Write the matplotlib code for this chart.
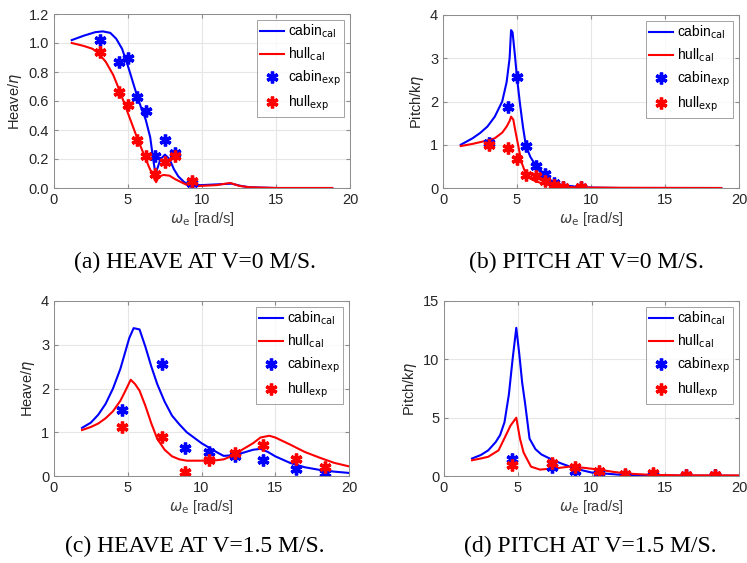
import matplotlib.pyplot as plt

# ---- (a) heave, V = 0 m/s ----
a_cab_x = [1.2, 2.0, 2.8, 3.3, 3.8, 4.2, 4.6, 5.0, 5.3, 5.6, 5.9, 6.2, 6.5, 6.7, 6.85, 7.0, 7.2, 7.5, 7.8, 8.1, 8.4, 8.8, 9.2, 10.0, 11.0, 12.0, 12.6, 13.2, 15.0, 18.8]
a_cab_y = [1.02, 1.05, 1.075, 1.08, 1.07, 1.03, 0.96, 0.84, 0.74, 0.64, 0.55, 0.47, 0.35, 0.2, 0.1, 0.14, 0.2, 0.23, 0.2, 0.13, 0.08, 0.04, 0.02, 0.02, 0.025, 0.03, 0.015, 0.005, 0.0, 0.0]
a_hull_x = [1.2, 2.0, 2.6, 3.0, 3.5, 4.0, 4.4, 4.8, 5.2, 5.6, 6.0, 6.4, 6.7, 6.9, 7.1, 7.4, 7.8, 8.2, 8.6, 9.2, 10.0, 11.0, 11.9, 12.5, 13.2, 15.0, 18.8]
a_hull_y = [1.0, 0.98, 0.96, 0.93, 0.87, 0.78, 0.68, 0.57, 0.46, 0.35, 0.25, 0.15, 0.08, 0.04, 0.08, 0.09, 0.085, 0.06, 0.04, 0.01, 0.015, 0.02, 0.035, 0.015, 0.005, 0.0, 0.0]
a_exp_x = [3.1, 4.4, 5.0, 5.6, 6.2, 6.8, 7.5, 8.2, 9.3]
a_cab_exp = [1.02, 0.87, 0.90, 0.63, 0.53, 0.22, 0.33, 0.24, 0.035]
a_hull_exp = [0.94, 0.66, 0.57, 0.33, 0.22, 0.10, 0.18, 0.22, 0.05]

# ---- (b) pitch, V = 0 m/s ----
b_cab_x = [1.2, 2.0, 2.5, 3.0, 3.5, 4.0, 4.3, 4.5, 4.6, 4.7, 4.85, 5.0, 5.2, 5.4, 5.6, 5.9, 6.3, 6.7, 7.0, 7.5, 8.0, 9.0, 10.0, 12.0, 18.8]
b_cab_y = [1.0, 1.15, 1.27, 1.42, 1.65, 2.0, 2.45, 3.0, 3.65, 3.6, 3.1, 2.55, 1.95, 1.42, 0.98, 0.72, 0.5, 0.32, 0.23, 0.13, 0.07, 0.03, 0.01, 0.0, 0.0]
b_hull_x = [1.2, 2.0, 2.5, 3.0, 3.5, 4.0, 4.3, 4.5, 4.6, 4.75, 4.9, 5.1, 5.3, 5.6, 6.0, 6.3, 7.0, 7.5, 8.0, 9.0, 10.0, 12.0, 18.8]
b_hull_y = [0.97, 1.02, 1.06, 1.1, 1.15, 1.28, 1.42, 1.55, 1.65, 1.58, 1.3, 0.95, 0.6, 0.32, 0.2, 0.15, 0.08, 0.05, 0.03, 0.015, 0.01, 0.005, 0.0]
b_exp_x = [3.1, 4.4, 5.0, 5.6, 6.3, 6.9, 7.5, 8.1, 9.3]
b_cab_exp = [1.03, 1.87, 2.56, 0.97, 0.52, 0.32, 0.11, 0.03, 0.03]
b_hull_exp = [0.99, 0.92, 0.66, 0.29, 0.27, 0.17, 0.06, 0.03, 0.03]

# ---- (c) heave, V = 1.5 m/s ----
c_cab_x = [1.9, 2.5, 3.0, 3.5, 4.0, 4.5, 4.8, 5.1, 5.4, 5.8, 6.2, 6.6, 7.0, 7.5, 8.0, 8.5, 9.0, 10.0, 11.0, 11.5, 12.0, 12.5, 13.0, 13.5, 14.0, 14.5, 15.0, 16.0, 17.0, 18.0, 19.0, 20.0]
c_cab_y = [1.1, 1.22, 1.4, 1.65, 2.0, 2.45, 2.8, 3.15, 3.38, 3.35, 2.95, 2.5, 2.1, 1.7, 1.38, 1.18, 1.0, 0.75, 0.55, 0.46, 0.47, 0.5, 0.55, 0.6, 0.62, 0.55, 0.45, 0.3, 0.2, 0.14, 0.1, 0.07]
c_hull_x = [1.9, 2.5, 3.0, 3.5, 4.0, 4.5, 4.8, 5.2, 5.5, 5.8, 6.2, 6.6, 7.0, 7.5, 8.0, 8.5, 9.0, 10.0, 11.0, 11.5, 12.0, 12.5, 13.0, 13.5, 14.0, 14.6, 15.0, 16.0, 17.0, 18.0, 19.0, 20.0]
c_hull_y = [1.05, 1.12, 1.2, 1.32, 1.48, 1.72, 1.92, 2.2, 2.1, 1.95, 1.6, 1.2, 0.85, 0.6, 0.45, 0.38, 0.35, 0.35, 0.36, 0.38, 0.45, 0.55, 0.65, 0.75, 0.88, 0.92, 0.88, 0.72, 0.55, 0.42, 0.3, 0.22]
c_exp_x = [4.6, 7.3, 8.9, 10.5, 12.3, 14.2, 16.4, 18.4]
c_cab_exp = [1.52, 2.57, 0.63, 0.55, 0.45, 0.36, 0.16, 0.07]
c_hull_exp = [1.13, 0.89, 0.10, 0.37, 0.53, 0.72, 0.40, 0.20]

# ---- (d) pitch, V = 1.5 m/s ----
d_cab_x = [1.9, 2.5, 3.0, 3.5, 3.8, 4.1, 4.4, 4.65, 4.9, 5.1, 5.3, 5.5, 5.8, 6.2, 6.6, 7.0, 7.5, 8.0, 9.0, 10.0, 11.0, 12.0, 14.0, 16.0, 20.0]
d_cab_y = [1.5, 1.8, 2.2, 2.9, 3.5, 4.6, 7.0, 10.0, 12.7, 10.5, 8.0, 6.2, 3.2, 2.3, 1.85, 1.6, 1.3, 1.05, 0.6, 0.3, 0.2, 0.1, 0.05, 0.03, 0.02]
d_hull_x = [1.9, 2.5, 3.0, 3.7, 4.2, 4.5, 4.9, 5.15, 5.4, 5.9, 6.5, 7.5, 8.5, 9.5, 10.5, 11.5, 12.5, 14.0, 16.0, 20.0]
d_hull_y = [1.35, 1.5, 1.65, 2.2, 3.5, 4.3, 5.0, 3.2, 2.0, 0.8, 0.55, 0.65, 0.8, 0.7, 0.55, 0.35, 0.2, 0.1, 0.06, 0.05]
d_exp_x = [4.6, 7.3, 8.9, 10.5, 12.3, 14.2, 16.4, 18.4]
d_cab_exp = [1.5, 0.8, 0.45, 0.25, 0.10, 0.07, 0.05, 0.05]
d_hull_exp = [0.95, 1.1, 0.75, 0.45, 0.18, 0.22, 0.08, 0.07]

W, H = 747, 563
fig = plt.figure(figsize=(W / 100, H / 100), dpi=100)
plt.rcParams["font.family"] = ["Liberation Sans", "DejaVu Sans"]
plt.rcParams["mathtext.fontset"] = "dejavusans"

BLUE = "#0000ff"
RED = "#ff0000"
AST = (6, 2, 0)
FRAME = "#8c8c8c"


def px_axes(left, top, right, bottom):
    return fig.add_axes([left / W, 1 - bottom / H, (right - left) / W, (bottom - top) / H])


panels = [
    dict(box=(54, 14, 350, 188), cab=(a_cab_x, a_cab_y), hull=(a_hull_x, a_hull_y),
         ex=a_exp_x, ce=a_cab_exp, he=a_hull_exp, ylim=(0, 1.2), yticks=[0, 0.2, 0.4, 0.6, 0.8, 1, 1.2],
         ylabel=r"Heave/$\eta$", cap="(a) HEAVE AT V=0 M/S.", capxy=(195, 262)),
    dict(box=(443, 15, 739, 188), cab=(b_cab_x, b_cab_y), hull=(b_hull_x, b_hull_y),
         ex=b_exp_x, ce=b_cab_exp, he=b_hull_exp, ylim=(0, 4), yticks=[0, 1, 2, 3, 4],
         ylabel=r"Pitch/k$\eta$", cap="(b) PITCH AT V=0 M/S.", capxy=(586, 262)),
    dict(box=(54, 301, 349, 476), cab=(c_cab_x, c_cab_y), hull=(c_hull_x, c_hull_y),
         ex=c_exp_x, ce=c_cab_exp, he=c_hull_exp, ylim=(0, 4), yticks=[0, 1, 2, 3, 4],
         ylabel=r"Heave/$\eta$", cap="(c) HEAVE AT V=1.5 M/S.", capxy=(195, 546)),
    dict(box=(444, 301, 739, 476), cab=(d_cab_x, d_cab_y), hull=(d_hull_x, d_hull_y),
         ex=d_exp_x, ce=d_cab_exp, he=d_hull_exp, ylim=(0, 15), yticks=[0, 5, 10, 15],
         ylabel=r"Pitch/k$\eta$", cap="(d) PITCH AT V=1.5 M/S.", capxy=(590, 546)),
]

for p in panels:
    ax = px_axes(*p["box"])
    ax.plot(*p["cab"], color=BLUE, lw=1.5, label=r"cabin$_{\rm cal}$")
    ax.plot(*p["hull"], color=RED, lw=1.5, label=r"hull$_{\rm cal}$")
    ax.plot(p["ex"], p["ce"], ls="none", marker=AST, ms=8.5, mew=2.4, color=BLUE, label=r"cabin$_{\rm exp}$")
    ax.plot(p["ex"], p["he"], ls="none", marker=AST, ms=8.5, mew=2.4, color=RED, label=r"hull$_{\rm exp}$")
    ax.set_xlim(0, 20)
    ax.set_xticks([0, 5, 10, 15, 20])
    ax.set_ylim(*p["ylim"])
    ax.set_yticks(p["yticks"])
    ax.set_xlabel(r"$\omega_{\rm e}$ [rad/s]", fontsize=10.5, color="#404040", labelpad=2)
    ax.set_ylabel(p["ylabel"], fontsize=10.5, color="#262626", labelpad=3)
    ax.grid(True, color="#e6e6e6", lw=0.8)
    ax.set_axisbelow(True)
    ax.tick_params(labelsize=10.5, labelcolor="#262626", color=FRAME, length=3,
                   direction="in", top=True, right=True)
    for s in ax.spines.values():
        s.set_color(FRAME)
        s.set_linewidth(0.7)
    leg = ax.legend(loc="upper right", fontsize=10, frameon=True, fancybox=False,
                    handlelength=1.7, labelspacing=0.4, borderpad=0.25, handletextpad=0.3,
                    borderaxespad=0.4)
    leg.get_frame().set_edgecolor(FRAME)
    leg.get_frame().set_linewidth(0.7)
    fig.text(p["capxy"][0] / W, 1 - p["capxy"][1] / H, p["cap"], ha="center", va="center",
             fontsize=17, family="Liberation Serif")

fig.savefig("out.png", dpi=100)
